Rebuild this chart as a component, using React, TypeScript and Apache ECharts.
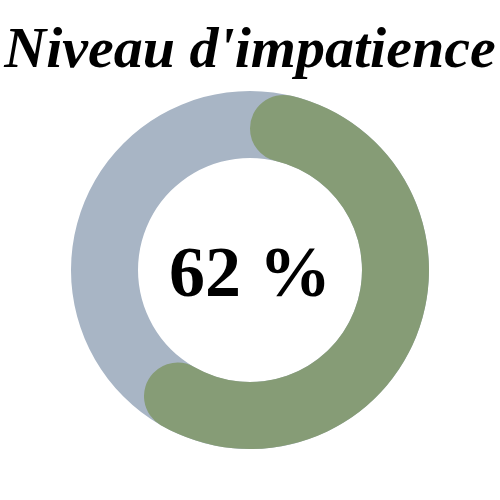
import React, { useEffect, useRef } from 'react'
import * as echarts from 'echarts'

const chartTitle = "Niveau d'impatience"
const gaugeValues = [62]
const gaugeMax = 100

const GREEN = '#869c76'
const BLUE = '#a8b5c5'

export default function App(): JSX.Element {
  const ref = useRef<HTMLDivElement>(null)

  useEffect(() => {
    document.body.style.margin = '0'
    if (!ref.current) return
    const chart = echarts.init(ref.current, undefined, { renderer: 'svg' })
    const value = gaugeValues[0]
    chart.setOption({
      animation: false,
      title: {
        text: chartTitle,
        left: 'center',
        top: 13,
        textStyle: {
          fontFamily: 'Liberation Serif',
          fontStyle: 'italic',
          fontWeight: 'bold',
          fontSize: 58,
          color: '#000',
        },
      },
      series: [
        {
          // track
          type: 'pie',
          center: [250, 270],
          radius: [112, 179],
          silent: true,
          label: { show: false },
          labelLine: { show: false },
          itemStyle: { color: BLUE },
          data: [{ value: gaugeMax }],
        },
        {
          // progress with rounded ends inside the arc
          type: 'pie',
          center: [250, 270],
          radius: [112, 179],
          startAngle: 90,
          clockwise: true,
          labelLine: { show: false },
          data: [
            {
              value,
              itemStyle: { color: GREEN, borderRadius: 34 },
              label: {
                show: true,
                position: 'center',
                formatter: '{c} %',
                fontFamily: 'Liberation Serif',
                fontWeight: 'bold',
                fontSize: 72,
                color: '#000',
                offset: [0, 2],
              },
            },
            {
              value: gaugeMax - value,
              itemStyle: { color: 'transparent' },
              label: { show: false },
            },
          ],
        },
      ],
    })
    return () => chart.dispose()
  }, [])

  return <div ref={ref} style={{ width: 500, height: 500 }} />
}
